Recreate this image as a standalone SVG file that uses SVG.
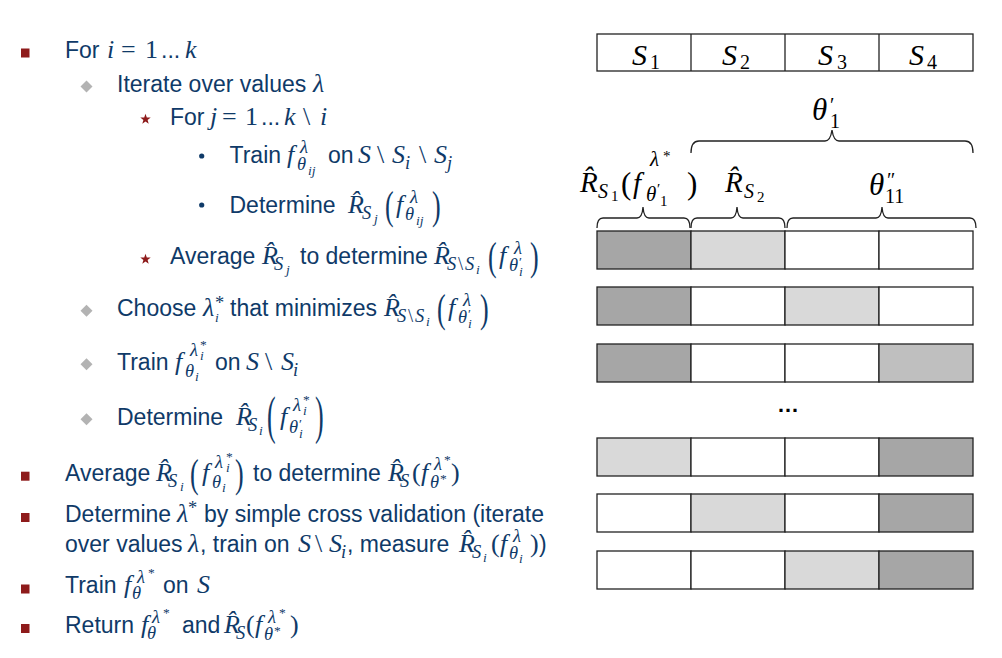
<svg xmlns="http://www.w3.org/2000/svg" width="1002" height="658" viewBox="0 0 1002 658">
<style>
.t{font-family:"Liberation Sans",Arial,sans-serif;font-size:23px;fill:#0f3a68}
.m{font-family:"Liberation Serif","Times New Roman",serif;font-style:italic;font-size:26px}
.u{font-style:normal}
.a{font-size:18.5px}
.b{font-size:13.5px}
.k{font-family:"Liberation Serif","Times New Roman",serif;font-style:italic;fill:#000}
.cell{stroke:#222;stroke-width:1.3}
.w{fill:#fff}.d{fill:#a6a6a6}.l{fill:#d9d9d9}.g{fill:#bfbfbf}
.br{fill:none;stroke:#222;stroke-width:1.3}
.sq{fill:#8e1b1b}.dm{fill:#b3b3b3}.st{fill:#8e1b1b}.dt{fill:#0f3a68}
</style>
<rect width="1002" height="658" fill="#fff"/>

<g id="bullets">
<rect class="sq" x="21" y="48.5" width="8.5" height="9"/>
<polygon class="dm" points="86.5,80.5 92.5,86.5 86.5,92.5 80.5,86.5"/>
<polygon class="st" points="145.5,113.8 146.8,117.6 150.7,117.6 147.6,120 148.7,123.8 145.5,121.5 142.3,123.8 143.4,120 140.3,117.6 144.2,117.6"/>
<circle class="dt" cx="201.7" cy="156" r="2.6"/>
<circle class="dt" cx="201.7" cy="205" r="2.6"/>
<polygon class="st" points="145.5,253.8 146.8,257.6 150.7,257.6 147.6,260 148.7,263.8 145.5,261.5 142.3,263.8 143.4,260 140.3,257.6 144.2,257.6"/>
<polygon class="dm" points="86.5,304.7 92.5,310.7 86.5,316.7 80.5,310.7"/>
<polygon class="dm" points="86.5,358.3 92.5,364.3 86.5,370.3 80.5,364.3"/>
<polygon class="dm" points="86.5,413.3 92.5,419.3 86.5,425.3 80.5,419.3"/>
<rect class="sq" x="21" y="471.7" width="8.5" height="9"/>
<rect class="sq" x="21" y="513" width="8.5" height="9"/>
<rect class="sq" x="21" y="584.5" width="8.5" height="9"/>
<rect class="sq" x="21" y="624" width="8.5" height="9"/>
</g>

<g id="line1">
<text class="t" x="65" y="58">For<tspan class="m" x="107">i</tspan><tspan class="m u" x="121">=</tspan><tspan class="m u" x="145">1</tspan><tspan x="161">...</tspan><tspan class="m" x="185">k</tspan></text>
</g>
<g id="line2">
<text class="t" x="117" y="92">Iterate over values<tspan class="m" x="313">λ</tspan></text>
</g>
<g id="line3">
<text class="t" x="170" y="125">For<tspan class="m" x="210">j</tspan><tspan class="m u" x="222">=</tspan><tspan class="m u" x="245">1</tspan><tspan x="261">...</tspan><tspan class="m" x="284">k</tspan><tspan class="m u" x="303">\</tspan><tspan class="m" x="320">i</tspan></text>
</g>
<g id="line4">
<text class="t" x="229.5" y="163">Train<tspan class="m" x="287">f</tspan><tspan class="m a" x="300" y="153">λ</tspan><tspan class="m a" x="297" y="170">θ</tspan><tspan class="m b" x="308" y="175">ij</tspan><tspan x="328" y="163">on</tspan><tspan class="m" x="358">S</tspan><tspan class="m u" x="377">\</tspan><tspan class="m" x="392">S</tspan><tspan class="m a" x="405" y="169">i</tspan><tspan class="m u" x="419" y="163">\</tspan><tspan class="m" x="434">S</tspan><tspan class="m a" x="447" y="169">j</tspan></text>
</g>
<g id="line5">
<text class="t" x="229.5" y="213">Determine<tspan class="m" x="348">R̂</tspan><tspan class="m a" x="362" y="219">S</tspan><tspan class="m b" x="374" y="223">j</tspan><tspan class="m" x="396" y="213">f</tspan><tspan class="m a" x="410" y="203">λ</tspan><tspan class="m a" x="405" y="220">θ</tspan><tspan class="m b" x="416" y="225">ij</tspan></text>
<text class="t m u" transform="translate(385,219) scale(1,1.5)">(</text>
<text class="t m u" transform="translate(432,219) scale(1,1.5)">)</text>
</g>
<g id="line6">
<text class="t" x="170" y="264">Average<tspan class="m" x="262">R̂</tspan><tspan class="m a" x="274" y="270">S</tspan><tspan class="m b" x="286" y="274">j</tspan><tspan x="300" y="264">to determine</tspan><tspan class="m" x="434">R̂</tspan><tspan class="m a" x="447" y="270">S</tspan><tspan class="m a u" x="458">\</tspan><tspan class="m a" x="465">S</tspan><tspan class="m b" x="476" y="274">i</tspan><tspan class="m" x="499" y="264">f</tspan><tspan class="m a" x="514" y="254">λ</tspan><tspan class="m a" x="509" y="271">θ</tspan><tspan class="m b u" x="519" y="266">′</tspan><tspan class="m b" x="519" y="276">i</tspan></text>
<text class="t m u" transform="translate(488,270) scale(1,1.5)">(</text>
<text class="t m u" transform="translate(530,270) scale(1,1.5)">)</text>
</g>
<g id="line7">
<text class="t" x="117" y="316">Choose<tspan class="m" x="203">λ</tspan><tspan class="m a u" x="215" y="309">*</tspan><tspan class="m b" x="215" y="322">i</tspan><tspan x="230" y="316">that minimizes</tspan><tspan class="m" x="384">R̂</tspan><tspan class="m a" x="397" y="322">S</tspan><tspan class="m a u" x="408">\</tspan><tspan class="m a" x="415">S</tspan><tspan class="m b" x="426" y="326">i</tspan><tspan class="m" x="448" y="316">f</tspan><tspan class="m a" x="463" y="306">λ</tspan><tspan class="m a" x="458" y="323">θ</tspan><tspan class="m b u" x="468" y="318">′</tspan><tspan class="m b" x="468" y="328">i</tspan></text>
<text class="t m u" transform="translate(437,322) scale(1,1.5)">(</text>
<text class="t m u" transform="translate(480,322) scale(1,1.5)">)</text>
</g>
<g id="line8">
<text class="t" x="117" y="370">Train<tspan class="m" x="175">f</tspan><tspan class="m a" x="190" y="356">λ</tspan><tspan class="m b u" x="200" y="349">*</tspan><tspan class="m b" x="200" y="360">i</tspan><tspan class="m a" x="185" y="377">θ</tspan><tspan class="m b" x="195" y="381">i</tspan><tspan x="215" y="370">on</tspan><tspan class="m" x="246">S</tspan><tspan class="m u" x="265">\</tspan><tspan class="m" x="281">S</tspan><tspan class="m a" x="293" y="376">i</tspan></text>
</g>
<g id="line9">
<text class="t" x="117" y="425">Determine<tspan class="m" x="236">R̂</tspan><tspan class="m a" x="248" y="431">S</tspan><tspan class="m b" x="259" y="435">i</tspan><tspan class="m" x="280" y="425">f</tspan><tspan class="m a" x="293" y="411">λ</tspan><tspan class="m b u" x="303" y="404">*</tspan><tspan class="m b" x="303" y="415">i</tspan><tspan class="m a" x="289" y="433">θ</tspan><tspan class="m b u" x="299" y="428">′</tspan><tspan class="m b" x="299" y="438">i</tspan></text>
<text class="t m u" transform="translate(267,433) scale(1,2)">(</text>
<text class="t m u" transform="translate(315,433) scale(1,2)">)</text>
</g>
<g id="line10">
<text class="t" x="65" y="481">Average<tspan class="m" x="156">R̂</tspan><tspan class="m a" x="168" y="487">S</tspan><tspan class="m b" x="180" y="491">i</tspan><tspan class="m" x="202" y="481">f</tspan><tspan class="m a" x="215" y="468">λ</tspan><tspan class="m b u" x="226" y="461">*</tspan><tspan class="m b" x="226" y="472">i</tspan><tspan class="m a" x="212" y="488">θ</tspan><tspan class="m b" x="222" y="492">i</tspan><tspan x="253" y="481">to determine</tspan><tspan class="m" x="388">R̂</tspan><tspan class="m a" x="400" y="487">S</tspan><tspan class="m u" x="412" y="481">(</tspan><tspan class="m" x="421">f</tspan><tspan class="m a" x="434" y="470">λ</tspan><tspan class="m b u" x="444" y="464">*</tspan><tspan class="m a" x="430" y="488">θ</tspan><tspan class="m b u" x="440" y="483">*</tspan><tspan class="m u" x="451" y="481">)</tspan></text>
<text class="t m u" transform="translate(190,487) scale(1,1.5)">(</text>
<text class="t m u" transform="translate(235,487) scale(1,1.5)">)</text>
</g>
<g id="line11">
<text class="t" x="65" y="522">Determine<tspan class="m" x="177">λ</tspan><tspan class="m a u" x="188" y="514">*</tspan><tspan x="204" y="522">by simple cross validation (iterate</tspan></text>
<text class="t" x="65" y="552">over values<tspan class="m" x="188">λ</tspan><tspan x="200">, train on</tspan><tspan class="m" x="298">S</tspan><tspan class="m u" x="315">\</tspan><tspan class="m" x="329">S</tspan><tspan class="m a" x="341" y="558">i</tspan><tspan x="347" y="552">, measure</tspan><tspan class="m" x="459">R̂</tspan><tspan class="m a" x="472" y="558">S</tspan><tspan class="m b" x="483" y="562">i</tspan><tspan class="m u" x="491" y="552">(</tspan><tspan class="m" x="500">f</tspan><tspan class="m a" x="513" y="542">λ</tspan><tspan class="m a" x="509" y="559">θ</tspan><tspan class="m b" x="519" y="563">i</tspan><tspan class="m u" x="530" y="552">)</tspan><tspan x="539">)</tspan></text>
</g>
<g id="line13">
<text class="t" x="65" y="593">Train<tspan class="m" x="124">f</tspan><tspan class="m a" x="137" y="583">λ</tspan><tspan class="m b u" x="148" y="577">*</tspan><tspan class="m a" x="132" y="599">θ</tspan><tspan x="163" y="593">on</tspan><tspan class="m" x="197">S</tspan></text>
</g>
<g id="line14">
<text class="t" x="65" y="633">Return<tspan class="m" x="141">f</tspan><tspan class="m a" x="152" y="623">λ</tspan><tspan class="m b u" x="163" y="617">*</tspan><tspan class="m a" x="147" y="639">θ</tspan><tspan x="182" y="633">and</tspan><tspan class="m" x="224">R̂</tspan><tspan class="m a" x="236" y="639">S</tspan><tspan class="m u" x="246" y="633">(</tspan><tspan class="m" x="255">f</tspan><tspan class="m a" x="268" y="623">λ</tspan><tspan class="m b u" x="279" y="617">*</tspan><tspan class="m a" x="264" y="640">θ</tspan><tspan class="m b u" x="274" y="635">*</tspan><tspan class="m u" x="290" y="633">)</tspan></text>
</g>

<g id="sets">
<rect class="cell w" x="597" y="34" width="376" height="37"/>
<line class="cell" x1="691" y1="34" x2="691" y2="71"/>
<line class="cell" x1="785" y1="34" x2="785" y2="71"/>
<line class="cell" x1="879" y1="34" x2="879" y2="71"/>
<text class="k" font-size="30" x="632" y="65">S<tspan class="u" font-size="20" x="650" y="69">1</tspan></text>
<text class="k" font-size="30" x="722" y="65">S<tspan class="u" font-size="20" x="740" y="69">2</tspan></text>
<text class="k" font-size="30" x="818" y="65">S<tspan class="u" font-size="20" x="837" y="69">3</tspan></text>
<text class="k" font-size="30" x="909" y="65">S<tspan class="u" font-size="20" x="927" y="69">4</tspan></text>
</g>

<g id="labels">
<text class="k" font-size="31" x="812" y="120">θ<tspan class="u" font-size="20" x="830" y="112">′</tspan><tspan class="u" font-size="20" x="830" y="128">1</tspan></text>
<text class="k" font-size="31" x="869" y="195">θ<tspan class="u" font-size="20" x="887" y="187">″</tspan><tspan class="u" font-size="20" x="885" y="203">11</tspan></text>
<text class="k" font-size="29" x="580" y="192">R̂<tspan font-size="20" x="598" y="198">S</tspan><tspan class="u" font-size="15" x="611" y="201">1</tspan><tspan class="u" font-size="31" x="621" y="194">(</tspan><tspan x="633" y="193">f</tspan><tspan font-size="21" x="650" y="166">λ</tspan><tspan class="u" font-size="15" x="663" y="161">*</tspan><tspan font-size="21" x="646" y="201">θ</tspan><tspan class="u" font-size="15" x="657" y="194">′</tspan><tspan class="u" font-size="15" x="660" y="206">1</tspan><tspan class="u" font-size="31" x="687" y="194">)</tspan></text>
<text class="k" font-size="29" x="725" y="192">R̂<tspan font-size="20" x="744" y="198">S</tspan><tspan class="u" font-size="15" x="757" y="202">2</tspan></text>
</g>

<g id="connectors">
<path class="br" d="M691,153 C691,146 693,141 699,141 L825,141 C829,141 831,137 832,130 C833,137 835,141 839,141 L965,141 C971,141 973,146 973,153"/>
<path class="br" d="M597,228 C597,222 599,218 603,218 L637,218 C641,218 642.5,214 643,207 C643.5,214 645,218 649,218 L684,218 C688,218 690,222 690,228"/>
<path class="br" d="M691,228 C691,222 693,218 697,218 L731,218 C735,218 736.5,214 737,207 C737.5,214 739,218 743,218 L779,218 C783,218 785,222 785,228"/>
<path class="br" d="M787,228 C787,222 789,218 793,218 L876,218 C880,218 881.5,214 882,207 C882.5,214 884,218 888,218 L970,218 C974,218 976,222 976,228"/>
</g>

<g id="row1">
<rect class="cell d" x="597" y="231" width="94" height="38"/><rect class="cell l" x="691" y="231" width="94" height="38"/><rect class="cell w" x="785" y="231" width="94" height="38"/><rect class="cell w" x="879" y="231" width="94" height="38"/>
</g>
<g id="row2">
<rect class="cell d" x="597" y="287" width="94" height="38"/><rect class="cell w" x="691" y="287" width="94" height="38"/><rect class="cell l" x="785" y="287" width="94" height="38"/><rect class="cell w" x="879" y="287" width="94" height="38"/>
</g>
<g id="row3">
<rect class="cell d" x="597" y="344" width="94" height="38"/><rect class="cell w" x="691" y="344" width="94" height="38"/><rect class="cell w" x="785" y="344" width="94" height="38"/><rect class="cell g" x="879" y="344" width="94" height="38"/>
</g>
<g id="ellipsis">
<text x="788" y="412" text-anchor="middle" font-family="Liberation Sans,Arial,sans-serif" font-weight="bold" font-size="22" fill="#000">…</text>
</g>
<g id="row4">
<rect class="cell l" x="597" y="438" width="94" height="38"/><rect class="cell w" x="691" y="438" width="94" height="38"/><rect class="cell w" x="785" y="438" width="94" height="38"/><rect class="cell d" x="879" y="438" width="94" height="38"/>
</g>
<g id="row5">
<rect class="cell w" x="597" y="494" width="94" height="38"/><rect class="cell l" x="691" y="494" width="94" height="38"/><rect class="cell w" x="785" y="494" width="94" height="38"/><rect class="cell d" x="879" y="494" width="94" height="38"/>
</g>
<g id="row6">
<rect class="cell w" x="597" y="551" width="94" height="38"/><rect class="cell w" x="691" y="551" width="94" height="38"/><rect class="cell l" x="785" y="551" width="94" height="38"/><rect class="cell d" x="879" y="551" width="94" height="38"/>
</g>
</svg>
